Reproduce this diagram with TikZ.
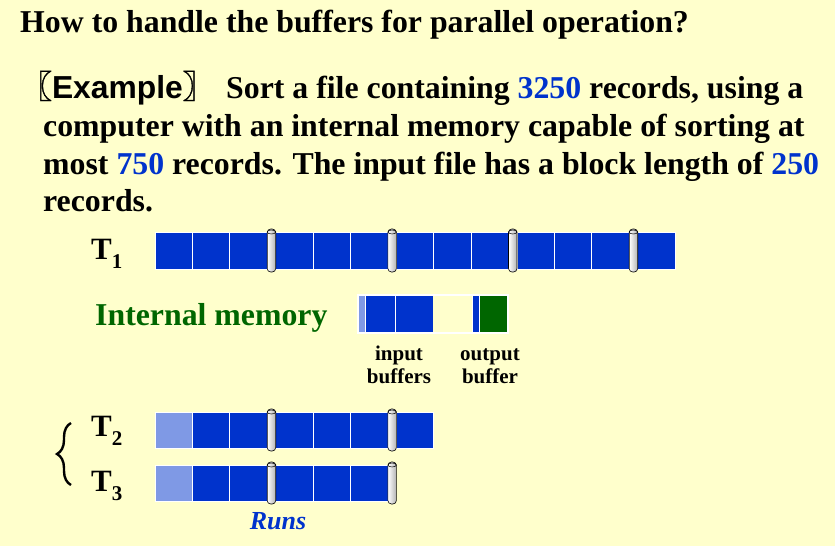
\documentclass[tikz,border=0pt]{standalone}
\usepackage{fontspec}
\setmainfont{Liberation Serif}
\newfontfamily\arialfont{Liberation Sans}
\newfontfamily\cjkfont{Noto Sans CJK SC}[FakeBold=1.2]
\usetikzlibrary{decorations.pathreplacing}
\definecolor{paper}{HTML}{FFFFCC}
\definecolor{blockblue}{HTML}{0033CC}
\definecolor{usedblue}{HTML}{7F99E5}
\definecolor{memgreen}{HTML}{006600}
\newcommand{\tapesub}[1]{\raisebox{-9pt}{\fontsize{21}{22}\selectfont #1}}
\begin{document}
\begin{tikzpicture}[x=1pt,y=-1pt,
    block/.style={fill=blockblue,draw=white,line width=0.8pt},
    usedblock/.style={fill=usedblue,draw=white,line width=0.8pt},
    runend/.style={draw=black,line width=0.6pt,left color=white,right color=black!30,rounded corners=3.5pt},
    bigtxt/.style={font=\bfseries\fontsize{31.8}{38}\selectfont,anchor=base west,inner sep=0pt},
    tapetxt/.style={font=\bfseries\fontsize{31}{34}\selectfont,anchor=base west,inner sep=0pt},
    smalltxt/.style={font=\bfseries\fontsize{21}{23}\selectfont,anchor=base,inner sep=0pt}]
    \fill[paper] (0,0) rectangle (835,546);
    \useasboundingbox (0,0) rectangle (835,546);
    % text of the slide
    \node[bigtxt] (title) at (20,32) {How to handle the buffers for parallel operation?};
    \node[bigtxt] (example) at (20,98) {\cjkfont 〖\arialfont Example\cjkfont 〗};
    \node[bigtxt] (line1) at (226,98) {Sort a file containing \textcolor{blockblue}{3250} records, using a};
    \node[bigtxt] (line2) at (43,136) {computer with an internal memory capable of sorting at};
    \node[bigtxt] (line3) at (43,174) {most \textcolor{blockblue}{750} records. The input file has a block length of \textcolor{blockblue}{250}};
    \node[bigtxt] (line4) at (43,211) {records.};
    % tape T1
    \node[tapetxt] (t1) at (91,259) {T\tapesub{1}};
    \foreach \x in {155,192.4,229.8,275.7,313.1,350.5,396.3,433.7,471.1,517,554.4,591.8,637.7}
        \draw[block] (\x,232) rectangle ++(37.4,37);
    \foreach \x in {267.2,387.9,508.5,629.2} {
        \draw[runend] (\x,229) rectangle ++(8.5,43);
        \draw[line width=0.5pt] (\x+4.25,232) ellipse (4.25 and 2);
    }
    % internal memory
    \node[bigtxt,text=memgreen] (mem) at (95,325) {Internal memory};
    \draw[usedblock] (358,295) rectangle (365,333);
    \draw[block] (365,295) rectangle (395,333);
    \draw[block] (395,295) rectangle (433,333);
    \fill[paper] (433.4,295.6) rectangle (471.6,332.4);
    \draw[block] (472,295) rectangle (479,333);
    \draw[fill=memgreen,draw=white,line width=0.8pt] (479,295) rectangle (508,333);
    \draw[white,line width=1.2pt] (358,295) rectangle (508,333);
    \node[smalltxt,align=center] (inbuf) at (399,383) {input\\buffers};
    \node[smalltxt,align=center] (outbuf) at (490,383) {output\\buffer};
    % tapes T2 and T3
    \node[tapetxt] (t2) at (91,436) {T\tapesub{2}};
    \node[tapetxt] (t3) at (91,491) {T\tapesub{3}};
    \draw[usedblock] (155,412) rectangle ++(37.4,36);
    \foreach \x in {192.4,229.8,275.7,313.1,350.5,396.3}
        \draw[block] (\x,412) rectangle ++(37.4,36);
    \draw[usedblock] (155,465) rectangle ++(37.4,36);
    \foreach \x in {192.4,229.8,275.7,313.1,350.5}
        \draw[block] (\x,465) rectangle ++(37.4,36);
    \foreach \x in {267.2,387.9} {
        \draw[runend] (\x,409) rectangle ++(8.5,42);
        \draw[line width=0.5pt] (\x+4.25,412) ellipse (4.25 and 2);
        \draw[runend] (\x,462) rectangle ++(8.5,42);
        \draw[line width=0.5pt] (\x+4.25,465) ellipse (4.25 and 2);
    }
    \coordinate (bracetop) at (71,423);
    \coordinate (bracebot) at (71,485);
    \draw[line width=2.4pt,decorate,decoration={brace,amplitude=14pt}] (bracebot) -- (bracetop);
    \node[font=\bfseries\itshape\fontsize{26}{30}\selectfont,text=blockblue,anchor=base,inner sep=0pt] (runs) at (278,529) {Runs};
\end{tikzpicture}
\end{document}
